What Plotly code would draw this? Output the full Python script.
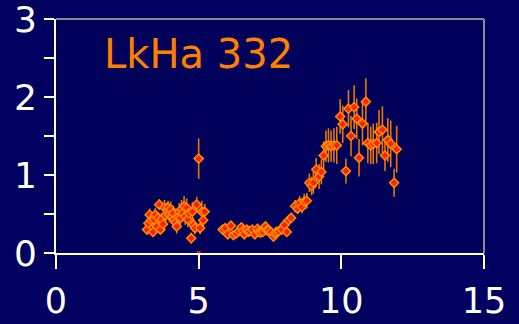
import plotly.graph_objects as go

# Light curve of LkHa 332: phase (x), flux (y), 1-sigma uncertainty
x_vals = [
    3.19, 3.24, 3.28, 3.33, 3.40, 3.43, 3.48, 3.53, 3.57, 3.62, 3.66, 3.70, 3.75,
    3.80, 3.84, 3.89, 3.93, 3.97, 4.02, 4.06, 4.10, 4.14, 4.19, 4.23, 4.28, 4.32,
    4.36, 4.40, 4.44, 4.49, 4.53, 4.58, 4.62, 4.66, 4.74, 4.78, 4.82, 4.87, 4.93,
    5.00, 5.05, 5.11, 5.16, 5.21,
    5.84, 5.93, 6.02, 6.13, 6.22, 6.32, 6.41, 6.50, 6.55, 6.60, 6.69, 6.74, 6.78,
    6.88, 6.97, 7.06, 7.11, 7.16, 7.25, 7.34, 7.39, 7.44, 7.53, 7.62, 7.67, 7.72,
    7.81, 7.91, 8.01, 8.09, 8.15, 8.24,
    8.38, 8.47, 8.54, 8.62, 8.70, 8.79, 8.88, 8.96, 9.02, 9.12, 9.22, 9.30, 9.38,
    9.46, 9.55, 9.64, 9.74, 9.84, 9.96, 10.05, 10.16, 10.25, 10.34, 10.45, 10.54,
    10.62, 10.74, 10.86, 10.93, 11.03, 11.12, 11.24, 11.32, 11.44, 11.53, 11.63,
    11.73, 11.85, 11.94,
]
y_vals = [
    0.30, 0.38, 0.49, 0.42, 0.27, 0.43, 0.49, 0.34, 0.45, 0.62, 0.30, 0.43, 0.37,
    0.58, 0.48, 0.55, 0.58, 0.49, 0.56, 0.47, 0.51, 0.43, 0.39, 0.34, 0.46, 0.53,
    0.45, 0.56, 0.51, 0.60, 0.47, 0.58, 0.43, 0.51, 0.19, 0.53, 0.36, 0.32, 0.62,
    1.21, 0.32, 0.53, 0.42, 0.53,
    0.30, 0.32, 0.24, 0.35, 0.23, 0.25, 0.28, 0.33, 0.28, 0.24, 0.30, 0.27, 0.28,
    0.30, 0.24, 0.31, 0.27, 0.26, 0.27, 0.34, 0.29, 0.29, 0.27, 0.21, 0.25, 0.27,
    0.28, 0.30, 0.36, 0.27, 0.42, 0.45,
    0.60, 0.57, 0.64, 0.59, 0.66, 0.67, 0.90, 0.86, 0.90, 1.07, 0.98, 1.04, 1.25,
    1.37, 1.38, 1.37, 1.38, 1.38, 1.75, 1.65, 1.05, 1.85, 1.50, 1.87, 1.72,
    1.22, 1.66, 1.94, 1.41, 1.38, 1.40, 1.41, 1.55, 1.58, 1.25, 1.45,
    1.40, 0.90, 1.33,
]
err_vals = [
    0.06, 0.07, 0.08, 0.07, 0.05, 0.08, 0.09, 0.07, 0.08, 0.07, 0.06, 0.09, 0.08,
    0.10, 0.10, 0.10, 0.09, 0.10, 0.10, 0.09, 0.10, 0.11, 0.10, 0.09, 0.10, 0.11,
    0.10, 0.12, 0.11, 0.13, 0.11, 0.12, 0.10, 0.11, 0.07, 0.12, 0.09, 0.08, 0.10,
    0.26, 0.08, 0.14, 0.12, 0.10,
    0.04, 0.04, 0.04, 0.04, 0.03, 0.04, 0.04, 0.05, 0.04, 0.04, 0.04, 0.04, 0.04,
    0.04, 0.04, 0.05, 0.04, 0.04, 0.04, 0.05, 0.04, 0.04, 0.04, 0.04, 0.04, 0.04,
    0.04, 0.05, 0.05, 0.04, 0.05, 0.05,
    0.08, 0.07, 0.09, 0.08, 0.10, 0.10, 0.12, 0.12, 0.14, 0.15, 0.16, 0.16, 0.18,
    0.20, 0.22, 0.20, 0.22, 0.24, 0.22, 0.24, 0.16, 0.24, 0.26, 0.28, 0.26,
    0.24, 0.28, 0.30, 0.26, 0.24, 0.26, 0.26, 0.28, 0.30, 0.20, 0.28,
    0.30, 0.18, 0.30,
]

# stray reference point on the baseline
ref_x = [5.0]
ref_y = [0.0]

x_ticks = [0, 5, 10, 15]
y_ticks = [0, 1, 2, 3]

title_text = "LkHa 332"

BG = "#000060"
ORANGE = "#ff8000"
FONT = "DejaVu Sans"

fig = go.Figure()

fig.add_trace(go.Scatter(
    x=x_vals, y=y_vals, mode="markers",
    error_y=dict(type="data", array=err_vals, visible=True,
                 color="#e87800", thickness=1.6, width=0),
    marker=dict(symbol="diamond", size=7, color="#ff2000",
                line=dict(color="#ff8c00", width=1.5)),
    showlegend=False, cliponaxis=False,
))

fig.add_trace(go.Scatter(
    x=ref_x, y=ref_y, mode="markers",
    marker=dict(symbol="square", size=4, color="#ff1010"),
    showlegend=False, cliponaxis=False,
))

fig.add_annotation(
    x=0.107, y=0.745, xref="paper", yref="paper",
    xanchor="left", yanchor="bottom", showarrow=False,
    text=title_text, font=dict(family=FONT, size=40, color=ORANGE),
)

# grey top and right frame edges
fig.add_shape(type="line", xref="paper", yref="paper", x0=0, x1=1, y0=1, y1=1,
              line=dict(color="#8a8a8a", width=2))
fig.add_shape(type="line", xref="paper", yref="paper", x0=1, x1=1, y0=0, y1=1,
              line=dict(color="#8a8a8a", width=2))

fig.update_layout(
    width=519, height=324,
    margin=dict(l=56, r=35, t=19, b=71),
    paper_bgcolor=BG, plot_bgcolor="#00005a",
    font=dict(family=FONT, color="white"),
    xaxis=dict(
        range=[0, 15], tickvals=x_ticks, ticks="outside", ticklen=14,
        tickwidth=2, tickcolor="white", showline=True, linecolor="white",
        linewidth=2, showgrid=False, zeroline=False, automargin=False,
        tickfont=dict(family=FONT, size=35, color="white"),
        ticklabelstandoff=2, ticklabeloverflow="allow",
    ),
    yaxis=dict(
        range=[0, 3], tickvals=y_ticks, ticks="outside", ticklen=10,
        tickwidth=2, tickcolor="white", showline=True, linecolor="white",
        linewidth=2, showgrid=False, zeroline=False, automargin=False,
        tickfont=dict(family=FONT, size=36, color="white"),
        ticklabelstandoff=0, ticklabeloverflow="allow",
        minor=dict(dtick=0.5, tick0=0, ticks="outside", ticklen=10,
                   tickwidth=2, tickcolor="white", showgrid=False),
    ),
)

fig.write_html("out.html")
